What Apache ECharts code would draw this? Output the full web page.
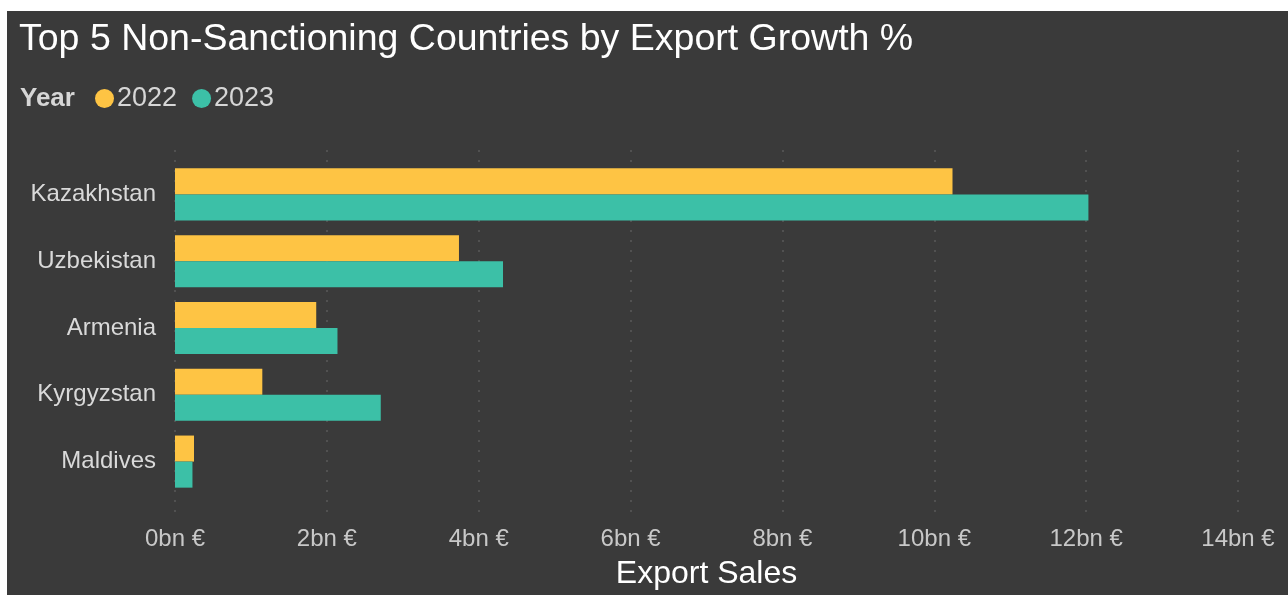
<!DOCTYPE html>
<html>
<head>
<meta charset="utf-8">
<script src="https://cdn.jsdelivr.net/npm/echarts@6/dist/echarts.min.js"></script>
<style>
    html, body { margin: 0; padding: 0; background: #ffffff; }
    #chart {
        position: absolute;
        left: 7px;
        top: 11px;
        width: 1281px;
        height: 584px;
        background: #3a3a3a;
    }
</style>
</head>
<body>
<div id="chart"></div>
<script>
// export sales in bn €
const countries = ['Kazakhstan', 'Uzbekistan', 'Armenia', 'Kyrgyzstan', 'Maldives'];
const sales2022 = [10.24, 3.74, 1.86, 1.15, 0.25];
const sales2023 = [12.03, 4.32, 2.14, 2.71, 0.23];
const xTicks = [0, 2, 4, 6, 8, 10, 12, 14];

const font = '"Liberation Sans", Arial, sans-serif';

const chart = echarts.init(document.getElementById('chart'));
chart.setOption({
    animation: false,
    backgroundColor: '#3a3a3a',
    title: {
        text: 'Top 5 Non-Sanctioning Countries by Export Growth %',
        left: 7,
        top: 5,
        textStyle: {
            color: '#ffffff',
            fontSize: 37.5,
            fontWeight: 'normal',
            fontFamily: font
        }
    },
    graphic: [
        {
            type: 'text',
            left: 13,
            top: 75,
            style: {
                text: 'Year',
                fill: '#d6d6d6',
                font: 'bold 26px ' + font
            }
        }
    ],
    legend: {
        data: ['2022', '2023'],
        left: 83,
        top: 69,
        icon: 'circle',
        itemWidth: 19,
        itemHeight: 19,
        itemGap: 15,
        textStyle: {
            color: '#d6d6d6',
            fontSize: 27,
            fontFamily: font,
            padding: [0, 0, 0, -2]
        }
    },
    grid: [
        // bars
        { left: 168, right: 50, top: 150, bottom: 100 },
        // dotted gridlines + axis labels (taller than the bar area)
        { left: 168, right: 50, top: 139, bottom: 80 }
    ],
    xAxis: [
        {
            type: 'value',
            gridIndex: 0,
            min: xTicks[0],
            max: xTicks[xTicks.length - 1],
            interval: 2,
            axisLabel: { show: false },
            axisLine: { show: false },
            axisTick: { show: false },
            splitLine: { show: false }
        },
        {
            type: 'value',
            gridIndex: 1,
            min: xTicks[0],
            max: xTicks[xTicks.length - 1],
            interval: 2,
            name: 'Export Sales',
            nameLocation: 'middle',
            nameGap: 43,
            nameTextStyle: {
                color: '#ffffff',
                fontSize: 32,
                fontFamily: font
            },
            axisLabel: {
                color: '#c8c8c8',
                fontSize: 24,
                fontFamily: font,
                margin: 12,
                formatter: v => v + 'bn €'
            },
            axisLine: { show: false },
            axisTick: { show: false },
            splitLine: {
                show: true,
                lineStyle: { color: '#5a5a5a', type: [2, 8], width: 1.5 }
            }
        }
    ],
    yAxis: [
        {
            type: 'category',
            gridIndex: 0,
            inverse: true,
            data: countries,
            axisLabel: {
                color: '#d9d9d9',
                fontSize: 24,
                fontFamily: font,
                margin: 19,
                padding: [4, 0, 0, 0]
            },
            axisLine: { show: false },
            axisTick: { show: false }
        },
        {
            type: 'category',
            gridIndex: 1,
            show: false,
            data: countries
        }
    ],
    series: [
        {
            name: '2022',
            type: 'bar',
            xAxisIndex: 0,
            yAxisIndex: 0,
            data: sales2022,
            barGap: '0%',
            barCategoryGap: '22%',
            itemStyle: { color: '#fec444' }
        },
        {
            name: '2023',
            type: 'bar',
            xAxisIndex: 0,
            yAxisIndex: 0,
            data: sales2023,
            barGap: '0%',
            barCategoryGap: '22%',
            itemStyle: { color: '#3cc0a7' }
        }
    ]
});
</script>
</body>
</html>
